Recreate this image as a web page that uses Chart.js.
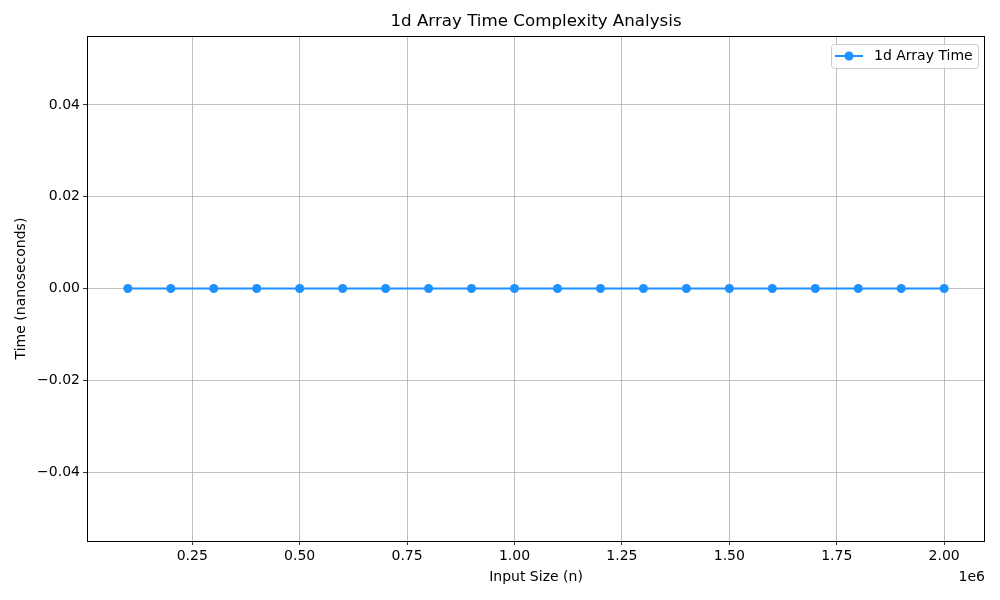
<!DOCTYPE html>
<html>
<head>
<meta charset="utf-8">
<script src="https://cdn.jsdelivr.net/npm/chart.js@4/dist/chart.umd.min.js"></script>
<style>
  html, body { margin: 0; padding: 0; background: #fff; }
  #wrap { width: 1000px; height: 600px; }
</style>
</head>
<body>
<div id="wrap"><canvas id="timeChart" width="1000" height="600"></canvas></div>
<script>
// Data
const inputSizes = [100000, 200000, 300000, 400000, 500000, 600000, 700000, 800000, 900000, 1000000,
                    1100000, 1200000, 1300000, 1400000, 1500000, 1600000, 1700000, 1800000, 1900000, 2000000];
const arrayTimes = [0, 0, 0, 0, 0, 0, 0, 0, 0, 0, 0, 0, 0, 0, 0, 0, 0, 0, 0, 0];
const xTicks = [250000, 500000, 750000, 1000000, 1250000, 1500000, 1750000, 2000000];
const yTicks = [-0.04, -0.02, 0, 0.02, 0.04];

const FONT = "'DejaVu Sans', sans-serif";
const LINE_COLOR = '#1e90ff';

// Frame box, "1e6" offset label and matplotlib-style legend
const framePlugin = {
    id: 'frame',
    afterDraw(chart) {
        const ctx = chart.ctx;
        const a = chart.chartArea;
        ctx.save();
        ctx.strokeStyle = '#000';
        ctx.lineWidth = 1;
        ctx.strokeRect(Math.round(a.left) + 0.5, Math.round(a.top) + 0.5,
                       Math.round(a.right - a.left) - 1, Math.round(a.bottom - a.top));

        // offset text
        ctx.fillStyle = '#000';
        ctx.font = '14px ' + FONT;
        ctx.textAlign = 'right';
        ctx.textBaseline = 'middle';
        ctx.fillText('1e6', a.right, 577);

        // legend
        const lx = 831, ly = 44, lw = 147, lh = 24;
        ctx.beginPath();
        ctx.roundRect(lx + 0.5, ly + 0.5, lw, lh, 3);
        ctx.fillStyle = 'rgba(255,255,255,0.8)';
        ctx.fill();
        ctx.strokeStyle = '#cccccc';
        ctx.stroke();
        ctx.strokeStyle = LINE_COLOR;
        ctx.lineWidth = 2;
        ctx.beginPath();
        ctx.moveTo(835, 56);
        ctx.lineTo(863, 56);
        ctx.stroke();
        ctx.fillStyle = LINE_COLOR;
        ctx.beginPath();
        ctx.arc(849, 56, 4.5, 0, Math.PI * 2);
        ctx.fill();
        ctx.fillStyle = '#000';
        ctx.textAlign = 'left';
        ctx.fillText(chart.data.datasets[0].label, 874, 56);
        ctx.restore();
    }
};

const ctx = document.getElementById('timeChart').getContext('2d');
const chart = new Chart(ctx, {
    type: 'line',
    data: {
        datasets: [{
            label: '1d Array Time',
            data: inputSizes.map((n, i) => ({ x: n, y: arrayTimes[i] })),
            borderColor: LINE_COLOR,
            backgroundColor: LINE_COLOR,
            borderWidth: 2,
            pointRadius: 4.5,
            pointHoverRadius: 4.5,
            pointBorderWidth: 0,
            tension: 0
        }]
    },
    options: {
        responsive: false,
        animation: false,
        layout: { padding: { left: 0, right: 15, top: 0, bottom: 0 } },
        plugins: {
            legend: { display: false },
            tooltip: { enabled: false },
            title: {
                display: true,
                fullSize: false,
                text: '1d Array Time Complexity Analysis',
                color: '#000',
                font: { family: FONT, size: 16.7, weight: 'normal', lineHeight: 1.2 },
                padding: { top: 12, bottom: 4 }
            }
        },
        scales: {
            x: {
                type: 'linear',
                min: 5000,
                max: 2095000,
                afterBuildTicks: s => { s.ticks = xTicks.map(v => ({ value: v })); },
                afterFit: s => { s.height = 59; },
                grid: { color: '#b0b0b0', lineWidth: 0.8, tickColor: '#000', tickLength: 4 },
                border: { display: false },
                ticks: {
                    color: '#000',
                    padding: 3,
                    maxRotation: 0,
                    font: { family: FONT, size: 14 },
                    callback: v => (v / 1e6).toFixed(2)
                },
                title: {
                    display: true,
                    text: 'Input Size (n)',
                    color: '#000',
                    font: { family: FONT, size: 14, lineHeight: 1.2 },
                    padding: { top: 0, bottom: 14 }
                }
            },
            y: {
                min: -0.055,
                max: 0.055,
                afterBuildTicks: s => { s.ticks = yTicks.map(v => ({ value: v })); },
                afterFit: s => { s.width = 87; },
                grid: { color: '#b0b0b0', lineWidth: 0.8, tickColor: '#000', tickLength: 4 },
                border: { display: false },
                ticks: {
                    color: '#000',
                    padding: 3,
                    font: { family: FONT, size: 14 },
                    callback: v => (v < 0 ? '\u2212' : '') + Math.abs(v).toFixed(2)
                },
                title: {
                    display: true,
                    text: 'Time (nanoseconds)',
                    color: '#000',
                    font: { family: FONT, size: 14, lineHeight: 1.2 },
                    padding: { top: 13, bottom: 0 }
                }
            }
        }
    },
    plugins: [framePlugin]
});
</script>
</body>
</html>
